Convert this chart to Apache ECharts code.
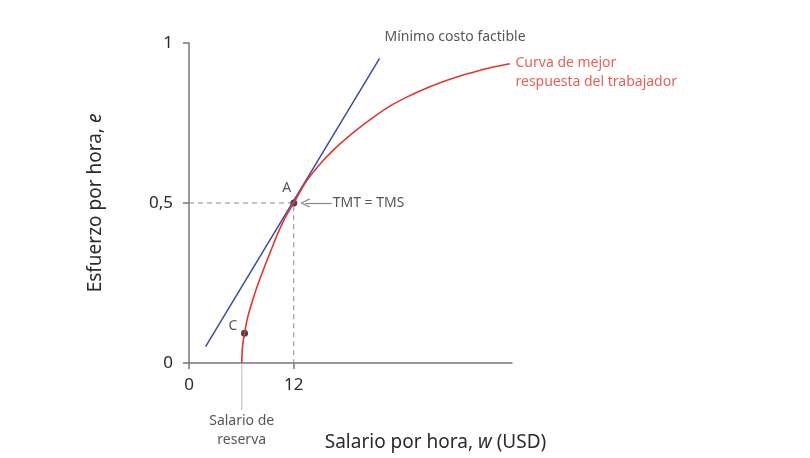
<!DOCTYPE html>
<html>
<head>
<meta charset="utf-8">
<script src="https://cdn.jsdelivr.net/npm/echarts@6.0.0/dist/echarts.min.js"></script>
<style>
  html, body { margin: 0; padding: 0; background: #fff; }
  #chart { width: 810px; height: 458px; }
</style>
</head>
<body>
<div id="chart"></div>
<script>
// curva de mejor respuesta (w, e)
const curveW = [6.04, 6.13, 6.36, 6.74, 7.31, 7.89, 8.65, 9.41, 10.17, 10.98, 12.0, 13.44, 15.35, 17.26, 19.17, 21.07, 22.97, 24.88, 26.78, 28.69, 30.59, 32.5, 34.4, 36.76]
const curveE = [0, 0.052, 0.093, 0.145, 0.198, 0.245, 0.301, 0.353, 0.405, 0.452, 0.5, 0.568, 0.632, 0.684, 0.728, 0.767, 0.802, 0.83, 0.854, 0.875, 0.893, 0.908, 0.922, 0.935]
// recta de mínimo costo factible
const lineW = [1.9, 21.83]
const lineE = [0.051, 0.952]
const xTicks = [0, 12]
const yTicks = [0, 0.5, 1]
const pointA = [12, 0.5]
const pointC = [6.36, 0.093]
const reserveWage = 6.04

const font = 'Noto Sans'
const red = '#e2362b'
const blue = '#3c4aa6'
const text = '#2b2b2b'

const zip = (xs, ys) => xs.map((x, i) => [x, ys[i]])

const note = (value, str, position, color, extra) => ({
  value,
  label: Object.assign({
    show: true,
    formatter: str,
    position,
    distance: 0,
    color: color || text,
    fontSize: 14,
    fontFamily: font,
    lineHeight: 19
  }, extra || {})
})

var myChart = echarts.init(document.getElementById('chart'))

var option = {
  animation: false,
  grid: {
    left: 189,
    right: 298,
    top: 43,
    bottom: 95,
    containLabel: false,
    outerBoundsMode: 'none'
  },
  xAxis: {
    type: 'value',
    min: 0,
    max: 37,
    name: '{a|Salario por hora, }{i|w}{a| (USD)}',
    nameLocation: 'middle',
    nameGap: 70,
    nameTextStyle: {
      padding: [0, 0, 0, 170],
      rich: {
        a: { fontSize: 19, fontFamily: font, color: text },
        i: { fontSize: 19, fontFamily: font, color: text, fontStyle: 'italic' }
      }
    },
    axisLine: { show: true, lineStyle: { color: '#777', width: 1.5 } },
    axisTick: { show: true, customValues: xTicks, length: 6, lineStyle: { color: '#777', width: 1.5 } },
    axisLabel: { customValues: xTicks, fontSize: 17, fontFamily: font, color: text, margin: 14 },
    splitLine: { show: false }
  },
  yAxis: {
    type: 'value',
    min: 0,
    max: 1,
    name: '{a|Esfuerzo por hora, }{i|e}',
    nameLocation: 'middle',
    nameGap: 84,
    nameRotate: 90,
    nameTextStyle: {
      rich: {
        a: { fontSize: 19, fontFamily: font, color: text },
        i: { fontSize: 19, fontFamily: font, color: text, fontStyle: 'italic' }
      }
    },
    axisLine: { show: true, lineStyle: { color: '#777', width: 1.5 } },
    axisTick: { show: true, customValues: yTicks, length: 6, lineStyle: { color: '#777', width: 1.5 } },
    axisLabel: {
      customValues: yTicks,
      fontSize: 17,
      fontFamily: font,
      color: text,
      margin: 16,
      formatter: v => String(v).replace('.', ',')
    },
    splitLine: { show: false }
  },
  series: [
    {
      name: 'guías',
      type: 'line',
      data: [[0, pointA[1]], pointA, [pointA[0], 0]],
      showSymbol: false,
      silent: true,
      lineStyle: { color: '#888', width: 1, type: [5, 4] },
      markLine: {
        silent: true,
        symbol: ['none', 'path://M0,9 L5,0 L10,9 L9,10 L5,2.5 L1,10 Z'],
        symbolSize: [9, 10],
        label: { show: false },
        lineStyle: { color: '#888', width: 1.2, type: 'solid' },
        data: [[{ coord: [16.35, 0.5] }, { coord: [13.3, 0.5] }]]
      }
    },
    {
      name: 'salario de reserva',
      type: 'line',
      data: [[reserveWage, -0.005], [reserveWage, -0.147]],
      showSymbol: false,
      silent: true,
      clip: false,
      lineStyle: { color: '#c4c4c4', width: 1.2 }
    },
    {
      name: 'Mínimo costo factible',
      type: 'line',
      data: zip(lineW, lineE),
      showSymbol: false,
      lineStyle: { color: blue, width: 1.5 }
    },
    {
      name: 'Curva de mejor respuesta',
      type: 'line',
      data: zip(curveW, curveE),
      smooth: 0.3,
      showSymbol: false,
      lineStyle: { color: red, width: 1.6 }
    },
    {
      name: 'puntos',
      type: 'scatter',
      data: [pointA, pointC],
      symbolSize: 7,
      itemStyle: { color: '#111' }
    },
    {
      name: 'notas',
      type: 'scatter',
      symbolSize: 0,
      clip: false,
      silent: true,
      data: [
        note([22.4, 1.019], 'Mínimo costo factible', 'right'),
        note([37.4, 0.907], 'Curva de mejor\nrespuesta del trabajador', 'right', red),
        note([11.2, 0.547], 'A', 'inside'),
        note([5.03, 0.116], 'C', 'inside'),
        note([16.46, 0.5], 'TMT = TMS', 'right'),
        note([reserveWage, -0.2125], 'Salario de\nreserva', 'inside', text, { align: 'center' })
      ]
    }
  ]
}

myChart.setOption(option)
</script>
</body>
</html>
